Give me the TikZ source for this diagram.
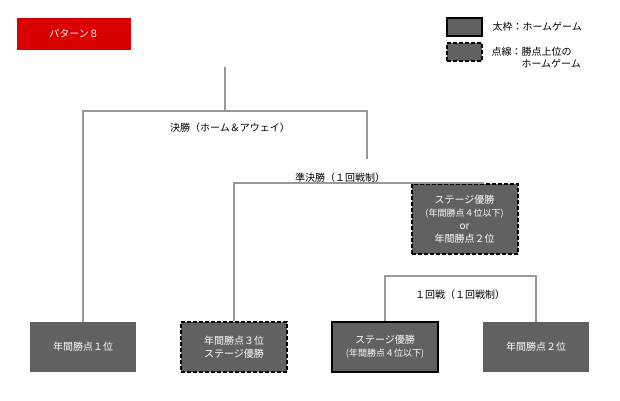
\documentclass[tikz,border=0pt]{standalone}
\usepackage{fontspec}
\setmainfont{Noto Sans CJK JP}
\usetikzlibrary{positioning}
\tikzstyle{team} = [rectangle, fill=black!62, text=white, align=center,
    minimum width=106pt, minimum height=50pt, font=\fontsize{10}{13}\selectfont]
\tikzstyle{home} = [team, draw=black, line width=2pt]
\tikzstyle{upper} = [team, draw=black, line width=2pt, dash pattern=on 4pt off 2pt]
\tikzstyle{line} = [draw, black!40, line width=1.4pt]
\tikzstyle{round} = [font=\fontsize{10}{12}\selectfont]
\tikzstyle{small} = [font=\fontsize{7.5}{9}\selectfont]

\begin{document}
\begin{tikzpicture}[x=1pt, y=-1pt]
    \useasboundingbox (0,0) rectangle (620,400);
    % Place nodes
    \node [fill=red!85!black, text=white, minimum width=114pt, minimum height=32pt,
        font=\fontsize{10}{12}\selectfont] (pattern) at (74,34) {パターン８};
    \node [team, draw=black, line width=2pt, minimum width=35pt, minimum height=18pt] (keyHome) at (464.5,27) {};
    \node [team, draw=black, line width=2pt, dash pattern=on 4pt off 2pt,
        minimum width=35pt, minimum height=18pt] (keyUpper) at (464.5,52) {};
    \node [round, anchor=west, right=6pt of keyHome] (keyHomeText) {太枠：ホームゲーム};
    \node [round, anchor=north west, align=left] (keyUpperText) at (488,44)
        {点線：勝点上位の\\\hspace{3em}ホームゲーム};
    \node [team] (first) at (83,347) {年間勝点１位};
    \node [upper] (third) at (234,347) {年間勝点３位\\ステージ優勝};
    \node [home] (stage) at (385,347) {ステージ優勝\\{\small (年間勝点４位以下)}};
    \node [team] (second) at (536,347) {年間勝点２位};
    \node [upper, minimum height=70pt] (semi) at (464.5,219)
        {ステージ優勝\\{\small (年間勝点４位以下)}\\or\\年間勝点２位};
    \coordinate (top) at (225,67);
    \coordinate (final) at (225,111);
    \coordinate (semiTop) at (367,159);
    \coordinate (roundTop) at (460,276);
    % Draw edges
    \path [line] (top) -- (final);
    \path [line] (first) |- (semiTop |- final) -- (semiTop);
    \path [line] (third) |- (semi.north -| 483,0) -- (483,184);
    \path [line] (stage) |- (roundTop) -| (second);
    % Labels
    \node [round] (finalLabel) at (230,128) {決勝（ホーム＆アウェイ）};
    \node [round] (semiLabel) at (340,178) {準決勝（１回戦制）};
    \node [round] (roundLabel) at (460,295) {１回戦（１回戦制）};
\end{tikzpicture}
\end{document}
